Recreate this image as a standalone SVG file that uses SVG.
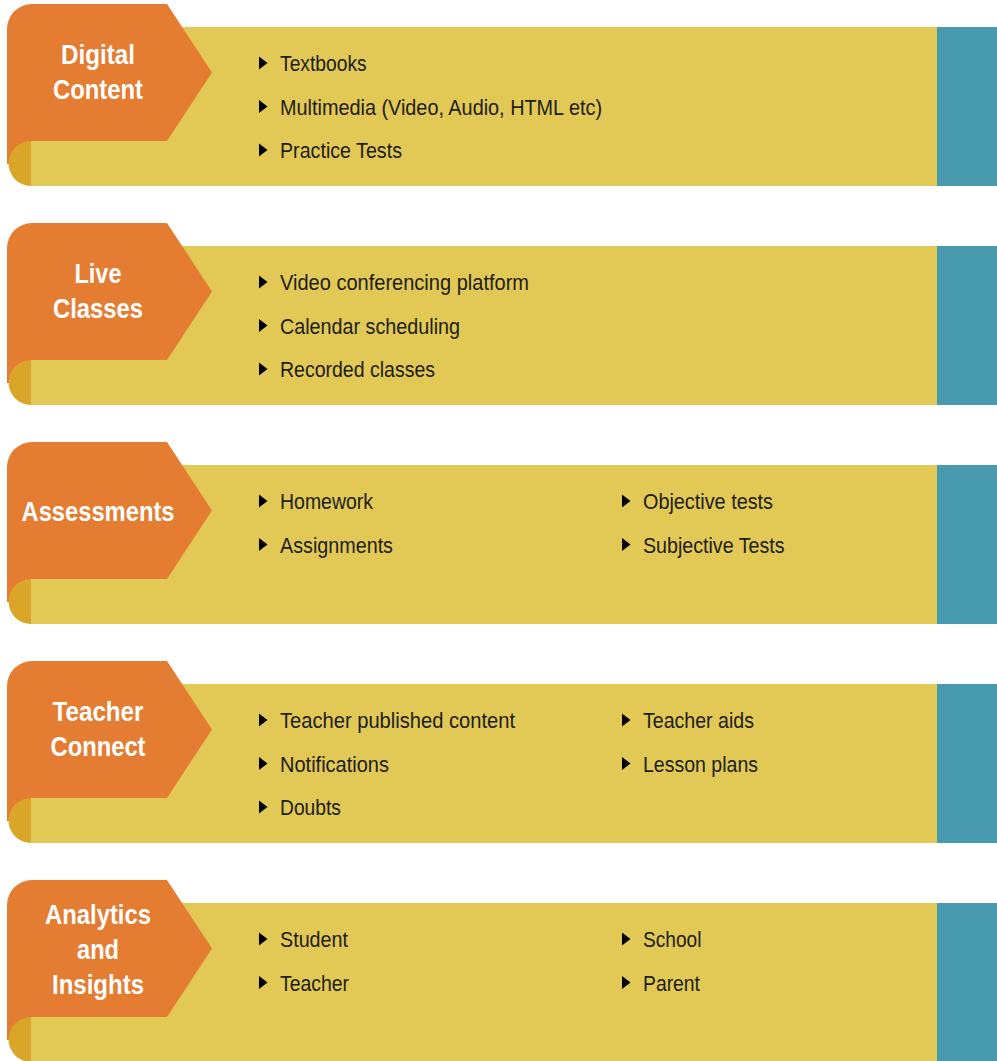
<svg xmlns="http://www.w3.org/2000/svg" width="997" height="1061" viewBox="0 0 997 1061">
<defs>
<style>
.band{fill:#E2C955}
.teal{fill:#489AAF}
.tab{fill:#E47C32}
.curl{fill:#D9A629}
.title{font-family:"Liberation Sans",Arial,sans-serif;font-weight:bold;font-size:27px;fill:#FFFFFF;text-anchor:middle}
.item{font-family:"Liberation Sans",Arial,sans-serif;font-size:22px;fill:#1D1D1B}
.bul{fill:#000000}
</style>
<g id="shape">
<rect class="band" x="30" y="27" width="908" height="159"/>
<rect class="teal" x="937" y="27" width="60" height="159"/>
<path class="tab" d="M7,29 A25,25 0 0 1 32,4 H167 L212,72.5 L167,141 H31 V164 H7 Z"/>
<path class="curl" d="M31,141 A22.5,22.5 0 0 0 31,186 Z"/>
</g>
<path id="b" class="bul" d="M0,-6.5 L8.5,0 L0,6.5 Z"/>
</defs>
<g id="connectors"/>

<g id="digital-content">
<use href="#shape"/>
<text class="title" x="98" y="64.3" textLength="74" lengthAdjust="spacingAndGlyphs">Digital</text>
<text class="title" x="98" y="99.3" textLength="90" lengthAdjust="spacingAndGlyphs">Content</text>
<use href="#b" x="259" y="63"/>
<text class="item" x="280" y="71" textLength="86.7" lengthAdjust="spacingAndGlyphs">Textbooks</text>
<use href="#b" x="259" y="106.5"/>
<text class="item" x="280" y="114.5" textLength="322" lengthAdjust="spacingAndGlyphs">Multimedia (Video, Audio, HTML etc)</text>
<use href="#b" x="259" y="150"/>
<text class="item" x="280" y="158" textLength="122" lengthAdjust="spacingAndGlyphs">Practice Tests</text>
</g>

<g id="live-classes" transform="translate(0,219)">
<use href="#shape"/>
<text class="title" x="98" y="64.3" textLength="47" lengthAdjust="spacingAndGlyphs">Live</text>
<text class="title" x="98" y="99.3" textLength="90" lengthAdjust="spacingAndGlyphs">Classes</text>
<use href="#b" x="259" y="63"/>
<text class="item" x="280" y="71" textLength="249" lengthAdjust="spacingAndGlyphs">Video conferencing platform</text>
<use href="#b" x="259" y="106.5"/>
<text class="item" x="280" y="114.5" textLength="180" lengthAdjust="spacingAndGlyphs">Calendar scheduling</text>
<use href="#b" x="259" y="150"/>
<text class="item" x="280" y="158" textLength="155" lengthAdjust="spacingAndGlyphs">Recorded classes</text>
</g>

<g id="assessments" transform="translate(0,438)">
<use href="#shape"/>
<text class="title" x="98" y="82.7" textLength="153" lengthAdjust="spacingAndGlyphs">Assessments</text>
<use href="#b" x="259" y="63"/>
<text class="item" x="280" y="71" textLength="93" lengthAdjust="spacingAndGlyphs">Homework</text>
<use href="#b" x="259" y="106.5"/>
<text class="item" x="280" y="114.5" textLength="113" lengthAdjust="spacingAndGlyphs">Assignments</text>
<use href="#b" x="622" y="63"/>
<text class="item" x="643" y="71" textLength="130" lengthAdjust="spacingAndGlyphs">Objective tests</text>
<use href="#b" x="622" y="106.5"/>
<text class="item" x="643" y="114.5" textLength="141.5" lengthAdjust="spacingAndGlyphs">Subjective Tests</text>
</g>

<g id="teacher-connect" transform="translate(0,657)">
<use href="#shape"/>
<text class="title" x="98" y="64.3" textLength="91" lengthAdjust="spacingAndGlyphs">Teacher</text>
<text class="title" x="98" y="99.3" textLength="95" lengthAdjust="spacingAndGlyphs">Connect</text>
<use href="#b" x="259" y="63"/>
<text class="item" x="280" y="71" textLength="235" lengthAdjust="spacingAndGlyphs">Teacher published content</text>
<use href="#b" x="259" y="106.5"/>
<text class="item" x="280" y="114.5" textLength="109" lengthAdjust="spacingAndGlyphs">Notifications</text>
<use href="#b" x="259" y="150"/>
<text class="item" x="280" y="158" textLength="61" lengthAdjust="spacingAndGlyphs">Doubts</text>
<use href="#b" x="622" y="63"/>
<text class="item" x="643" y="71" textLength="111" lengthAdjust="spacingAndGlyphs">Teacher aids</text>
<use href="#b" x="622" y="106.5"/>
<text class="item" x="643" y="114.5" textLength="115" lengthAdjust="spacingAndGlyphs">Lesson plans</text>
</g>

<g id="analytics-and-insights" transform="translate(0,876)">
<use href="#shape"/>
<text class="title" x="98" y="48" textLength="106" lengthAdjust="spacingAndGlyphs">Analytics</text>
<text class="title" x="98" y="83.3" textLength="42" lengthAdjust="spacingAndGlyphs">and</text>
<text class="title" x="98" y="118.3" textLength="92" lengthAdjust="spacingAndGlyphs">Insights</text>
<use href="#b" x="259" y="63"/>
<text class="item" x="280" y="71" textLength="68" lengthAdjust="spacingAndGlyphs">Student</text>
<use href="#b" x="259" y="106.5"/>
<text class="item" x="280" y="114.5" textLength="69" lengthAdjust="spacingAndGlyphs">Teacher</text>
<use href="#b" x="622" y="63"/>
<text class="item" x="643" y="71" textLength="58.5" lengthAdjust="spacingAndGlyphs">School</text>
<use href="#b" x="622" y="106.5"/>
<text class="item" x="643" y="114.5" textLength="57" lengthAdjust="spacingAndGlyphs">Parent</text>
</g>
</svg>
